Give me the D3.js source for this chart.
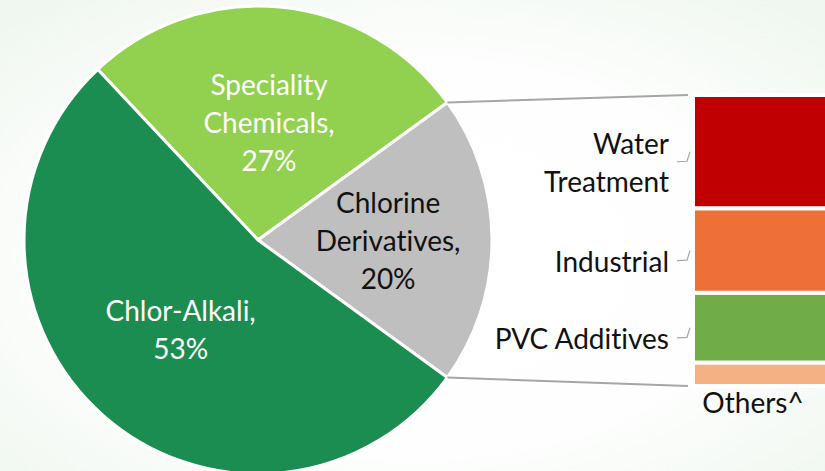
<!DOCTYPE html>
<html>
<head>
<meta charset="utf-8">
<script src="https://cdn.jsdelivr.net/npm/d3@7"></script>
<style>
  html, body { margin: 0; padding: 0; background: #ffffff; }
  svg { display: block; }
  text { font-family: Lato, "Open Sans", sans-serif; font-variant-ligatures: none; font-feature-settings: "liga" 0; }
</style>
</head>
<body>
<svg id="chart" width="825" height="471"></svg>
<script>
// Revenue split (pie) and the breakdown of Chlorine Derivatives (bar)
const pieNames = ["Speciality Chemicals", "Chlorine Derivatives", "Chlor-Alkali"];
const pieLabels = [["Speciality", "Chemicals,", "27%"], ["Chlorine", "Derivatives,", "20%"], ["Chlor-Alkali,", "53%"]];
const pieValues = [27, 20, 53];
const pieColors = ["#92d050", "#bfbfbf", "#1b8d50"];
const pieTextColors = ["#ffffff", "#111111", "#ffffff"];

const barNames = ["Water Treatment", "Industrial", "PVC Additives", "Others^"];
const barLabels = [["Water", "Treatment"], ["Industrial"], ["PVC Additives"], ["Others^"]];
const barValues = [39, 29, 24, 8];
const barColors = ["#c00000", "#ed7136", "#70ad47", "#f4b183"];

const W = 825, H = 471;
const CX = 258, CY = 240, R = 234;
const BAR_X = 693, BAR_W = 150, BAR_TOP = 95, BAR_BOTTOM = 386;
const LINE_H = 38;
const FONT = 28;

const svg = d3.select("#chart");

// faint greenish backdrop, white in the middle
const defs = svg.append("defs");
const grad = defs.append("radialGradient").attr("id", "bg")
  .attr("cx", "50%").attr("cy", "55%").attr("r", "70%");
grad.append("stop").attr("offset", "0%").attr("stop-color", "#ffffff");
grad.append("stop").attr("offset", "60%").attr("stop-color", "#fdfefd");
grad.append("stop").attr("offset", "100%").attr("stop-color", "#f0f7f0");
svg.append("rect").attr("width", W).attr("height", H).attr("fill", "url(#bg)");

// pie: derivatives slice centred on 3 o'clock
const total = d3.sum(pieValues);
const start = Math.PI / 2 - pieValues[1] / total * Math.PI - pieValues[0] / total * 2 * Math.PI;
const pie = d3.pie().sort(null).startAngle(start).endAngle(start + 2 * Math.PI);
const arcs = pie(pieValues);
const arc = d3.arc().innerRadius(0).outerRadius(R);

const g = svg.append("g").attr("transform", `translate(${CX},${CY})`);
g.selectAll("path.slice")
  .data(arcs)
  .enter()
  .append("path")
  .attr("class", "slice")
  .attr("d", arc)
  .attr("fill", (d, i) => pieColors[i])
  .attr("stroke", "#ffffff")
  .attr("stroke-width", 3)
  .attr("stroke-linejoin", "round");

// label anchors, as fractions of the radius along the slice bisector
const labelRadius = [0.5, 0.556, 0.5];
const labelNudge = [[0, 0], [0, 2], [0, 3]];
g.selectAll("text.pie-label")
  .data(arcs)
  .enter()
  .append("text")
  .attr("class", "pie-label")
  .attr("text-anchor", "middle")
  .attr("font-size", FONT)
  .attr("fill", (d, i) => pieTextColors[i])
  .each(function(d, i) {
    const mid = (d.startAngle + d.endAngle) / 2;
    const x = Math.sin(mid) * R * labelRadius[i] + labelNudge[i][0];
    const y = -Math.cos(mid) * R * labelRadius[i] + labelNudge[i][1];
    const lines = pieLabels[i];
    d3.select(this).selectAll("tspan")
      .data(lines)
      .enter()
      .append("tspan")
      .attr("x", x)
      .attr("y", (l, j) => y + 9 + (j - (lines.length - 1) / 2) * LINE_H)
      .text(l => l);
  });

// connector lines from the derivatives slice edges to the stacked bar
const der = arcs[1];
const edge = a => [CX + Math.sin(a) * R, CY - Math.cos(a) * R];
const p1 = edge(der.startAngle), p2 = edge(der.endAngle);
svg.append("line")
  .attr("x1", p1[0]).attr("y1", p1[1]).attr("x2", BAR_X - 5).attr("y2", BAR_TOP)
  .attr("stroke", "#a6a6a6").attr("stroke-width", 2);
svg.append("line")
  .attr("x1", p2[0]).attr("y1", p2[1]).attr("x2", BAR_X - 5).attr("y2", BAR_BOTTOM)
  .attr("stroke", "#a6a6a6").attr("stroke-width", 2);

// stacked bar
const y = d3.scaleLinear().domain([0, d3.sum(barValues)]).range([BAR_TOP, BAR_BOTTOM]);
const cum = d3.cumsum(barValues);
const segs = barValues.map((v, i) => ({ name: barNames[i], y0: cum[i] - v, y1: cum[i], i }));

svg.selectAll("rect.seg")
  .data(segs)
  .enter()
  .append("rect")
  .attr("class", "seg")
  .attr("x", BAR_X)
  .attr("y", d => y(d.y0))
  .attr("width", BAR_W)
  .attr("height", d => y(d.y1) - y(d.y0))
  .attr("fill", d => barColors[d.i])
  .attr("stroke", "#ffffff")
  .attr("stroke-width", 4);

// labels left of the bar with small elbow leaders
const sideSegs = segs.slice(0, 3);
sideSegs.forEach(d => {
  const mid = (y(d.y0) + y(d.y1)) / 2;
  const ly = mid + 10;
  svg.append("path")
    .attr("d", `M${BAR_X - 16},${ly} L${BAR_X - 6},${ly - 0.5} L${BAR_X - 3},${mid}`)
    .attr("fill", "none")
    .attr("stroke", "#a6a6a6")
    .attr("stroke-width", 1.2);
  const lines = barLabels[d.i];
  svg.append("text")
    .attr("text-anchor", "end")
    .attr("font-size", FONT)
    .attr("fill", "#111111")
    .selectAll("tspan")
    .data(lines)
    .enter()
    .append("tspan")
    .attr("x", BAR_X - 24)
    .attr("y", (l, j) => ly + 11 + (j - (lines.length - 1) / 2) * LINE_H)
    .text(l => l);
});

// last segment label sits under the bar
const last = segs[3];
svg.append("text")
  .attr("text-anchor", "middle")
  .attr("font-size", FONT)
  .attr("fill", "#111111")
  .attr("x", BAR_X + 60)
  .attr("y", y(last.y1) + 27)
  .text(barLabels[3][0]);
</script>
</body>
</html>
